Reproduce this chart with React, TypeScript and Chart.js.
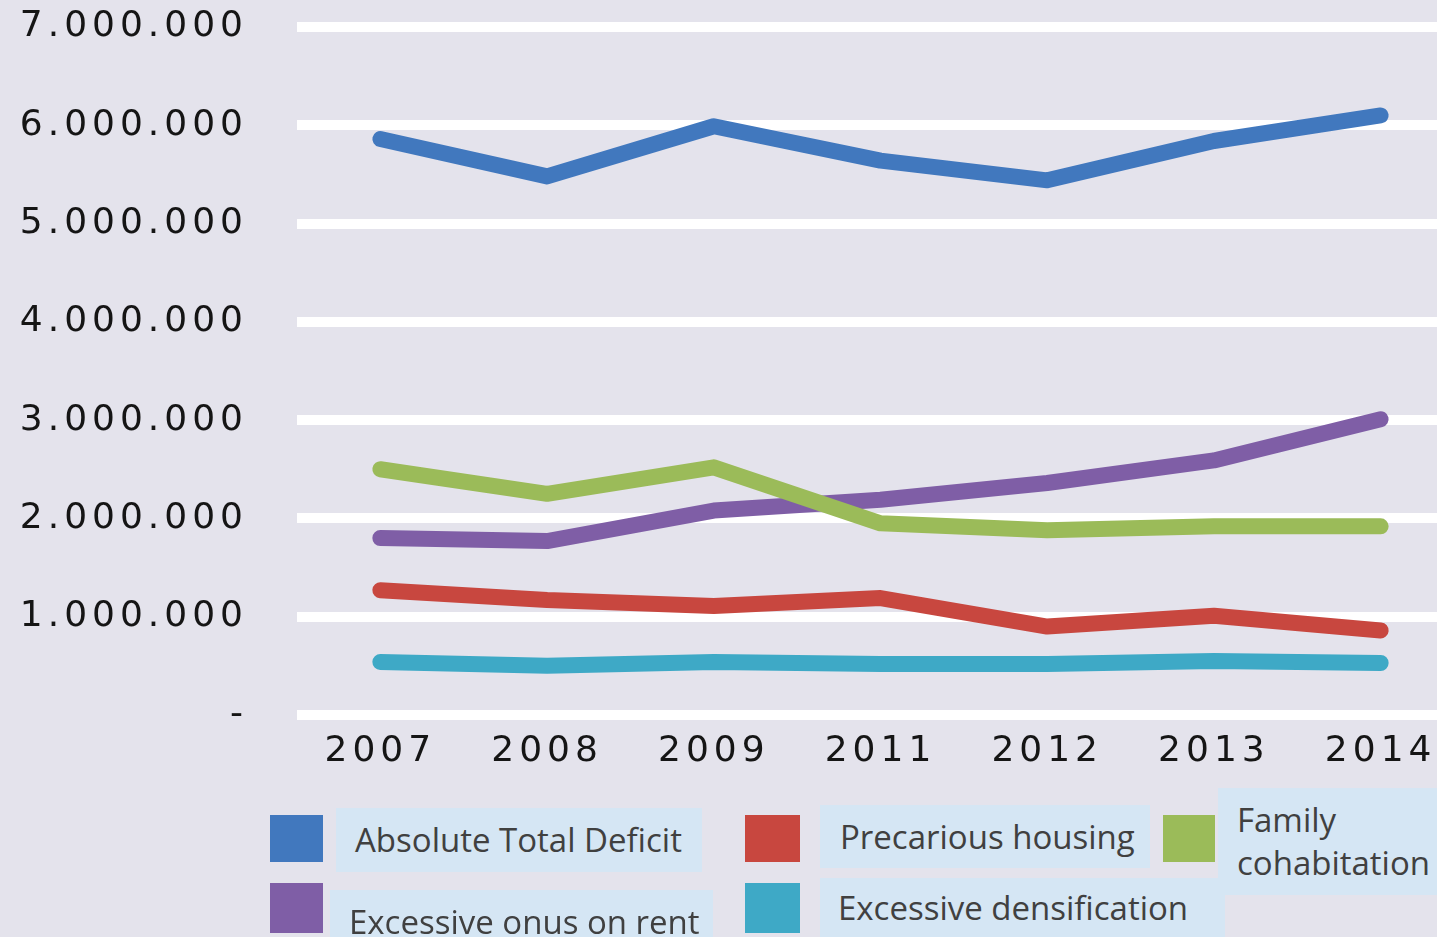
import React, { useEffect, useRef } from "react";
import { Chart, registerables } from "chart.js";

Chart.register(...registerables);

const years = ["2007", "2008", "2009", "2011", "2012", "2013", "2014"];
const absoluteTotalDeficit = [5860000, 5480000, 5990000, 5640000, 5440000, 5840000, 6100000];
const precariousHousing = [1270000, 1170000, 1110000, 1190000, 900000, 1010000, 860000];
const familyCohabitation = [2500000, 2250000, 2520000, 1950000, 1880000, 1920000, 1920000];
const excessiveOnusOnRent = [1800000, 1770000, 2080000, 2190000, 2360000, 2590000, 3010000];
const excessiveDensification = [540000, 500000, 540000, 520000, 520000, 550000, 530000];
const yTickValues = [0, 1000000, 2000000, 3000000, 4000000, 5000000, 6000000, 7000000];
const yTickLabels = ["-", "1.000.000", "2.000.000", "3.000.000", "4.000.000", "5.000.000", "6.000.000", "7.000.000"];

const seriesNames = [
  "Absolute Total Deficit",
  "Precarious housing",
  "Family cohabitation",
  "Excessive onus on rent",
  "Excessive densification",
];
const seriesColors = ["#4178be", "#c8473f", "#9bbb59", "#7f5ea6", "#3ea9c6"];

const BG = "#e4e3ec";
const BOX = "#d5e6f4";

const spacingPlugin = {
  id: "letterSpacing",
  beforeDraw(chart: any) {
    (chart.ctx as any).letterSpacing = "5px";
  },
  afterDraw(chart: any) {
    (chart.ctx as any).letterSpacing = "0px";
  },
};

export default function App() {
  const ref = useRef<HTMLCanvasElement | null>(null);

  useEffect(() => {
    if (!ref.current) return;
    const seriesData = [
      absoluteTotalDeficit,
      precariousHousing,
      familyCohabitation,
      excessiveOnusOnRent,
      excessiveDensification,
    ];
    const chart = new Chart(ref.current, {
      type: "line",
      data: {
        labels: years,
        datasets: seriesNames.map((name, i) => ({
          label: name,
          data: seriesData[i],
          borderColor: seriesColors[i],
          backgroundColor: seriesColors[i],
          borderWidth: 16,
          borderCapStyle: "round",
          borderJoinStyle: "round",
          pointRadius: 0,
          tension: 0,
          fill: false,
        })),
      },
      options: {
        responsive: false,
        animation: false,
        devicePixelRatio: 1,
        layout: { padding: { top: 27, right: 6, left: 0, bottom: 0 } },
        plugins: {
          legend: { display: false },
          tooltip: { enabled: false },
        },
        scales: {
          x: {
            offset: true,
            grid: { display: false, drawTicks: false },
            border: { display: false },
            ticks: {
              color: "#151515",
              font: { family: "DejaVu Sans", size: 36 },
              padding: 15,
              maxRotation: 0,
              autoSkip: false,
            },
            afterFit(scale: any) {
              scale.height = 222;
              scale.paddingLeft = 0;
              scale.paddingRight = 0;
            },
          },
          y: {
            min: 0,
            max: 7000000,
            grid: { color: "#ffffff", lineWidth: 10, drawTicks: false },
            border: { display: false },
            afterBuildTicks(scale: any) {
              scale.ticks = yTickValues.map((v) => ({ value: v }));
            },
            ticks: {
              color: "#151515",
              font: { family: "DejaVu Sans", size: 36 },
              padding: 49,
              callback: (value: any) => {
                const idx = yTickValues.indexOf(Number(value));
                return idx >= 0 ? yTickLabels[idx] : "";
              },
            },
            afterFit(scale: any) {
              scale.width = 297;
              scale.paddingTop = 0;
              scale.paddingBottom = 0;
            },
          },
        },
      },
      plugins: [spacingPlugin],
    } as any);
    return () => chart.destroy();
  }, []);

  const textStyle: React.CSSProperties = {
    position: "absolute",
    fontFamily: "'Open Sans', sans-serif",
    fontSize: 33,
    color: "#404040",
    whiteSpace: "nowrap",
    lineHeight: "43px",
  };

  const swatches = [
    { c: 0, left: 270, top: 815, w: 53, h: 47 },
    { c: 3, left: 270, top: 883, w: 53, h: 50 },
    { c: 1, left: 745, top: 815, w: 55, h: 47 },
    { c: 4, left: 745, top: 883, w: 55, h: 50 },
    { c: 2, left: 1163, top: 815, w: 52, h: 47 },
  ];
  const boxes = [
    { c: 0, left: 336, top: 808, w: 366, h: 64, tx: 19, ty: 10 },
    { c: 3, left: 330, top: 890, w: 383, h: 60, tx: 19, ty: 10 },
    { c: 1, left: 820, top: 805, w: 330, h: 63, tx: 20, ty: 10 },
    { c: 4, left: 820, top: 878, w: 405, h: 59, tx: 18, ty: 8 },
    { c: 2, left: 1218, top: 788, w: 219, h: 107, tx: 19, ty: 10 },
  ];

  return (
    <div
      style={{
        position: "fixed",
        left: 0,
        top: 0,
        width: 1437,
        height: 937,
        overflow: "hidden",
        background: BG,
      }}
    >
      <canvas
        ref={ref}
        width={1470}
        height={937}
        style={{ position: "absolute", left: 0, top: 0, width: 1470, height: 937 }}
      />
      {boxes.map((b, i) => (
        <div
          key={"b" + i}
          style={{ position: "absolute", left: b.left, top: b.top, width: b.w, height: b.h, background: BOX }}
        >
          <div style={{ ...textStyle, left: b.tx, top: b.ty }}>
            {b.c === 2 ? (
              <>
                Family
                <br />
                cohabitation
              </>
            ) : (
              seriesNames[b.c]
            )}
          </div>
        </div>
      ))}
      {swatches.map((s, i) => (
        <div
          key={"s" + i}
          style={{
            position: "absolute",
            left: s.left,
            top: s.top,
            width: s.w,
            height: s.h,
            background: seriesColors[s.c],
          }}
        />
      ))}
    </div>
  );
}
